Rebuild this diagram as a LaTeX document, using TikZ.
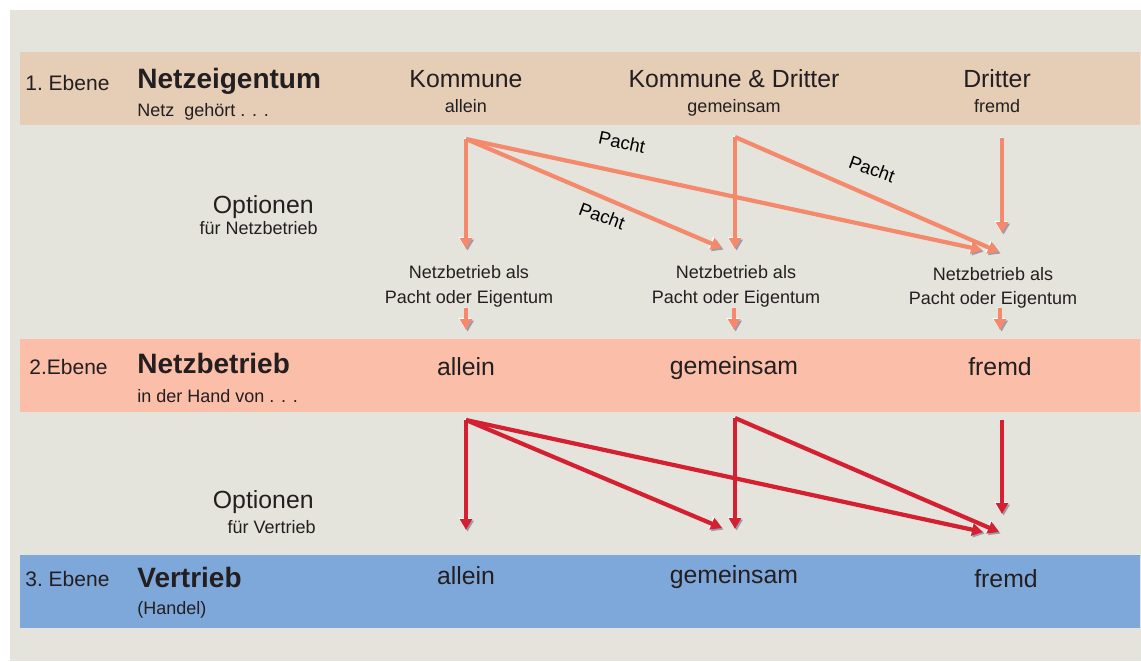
\documentclass[tikz,border=0pt]{standalone}
\usepackage{fontspec}
\setmainfont{Liberation Sans}
\usetikzlibrary{arrows.meta}

\definecolor{grund}{HTML}{E5E4DC}
\definecolor{eigen}{HTML}{E6CDB6}
\definecolor{betrieb}{HTML}{FBBEA8}
\definecolor{vertrieb}{HTML}{7FA8DA}
\definecolor{lachs}{HTML}{F4896C}
\definecolor{rot}{HTML}{D42030}
\definecolor{schrift}{HTML}{231F20}
\definecolor{schatten}{HTML}{9C9CAA}

\tikzset{
  band/.style={minimum width=560pt, minimum height=36.5pt, inner sep=0pt},
  txt/.style={text=schrift, inner sep=0pt},
  klein/.style={txt, font=\fontsize{9}{11}\selectfont},
  mittel/.style={txt, font=\fontsize{12.4}{15}\selectfont},
  titel/.style={txt, font=\fontsize{14}{17}\selectfont\bfseries},
  ebene/.style={txt, font=\fontsize{10.5}{12}\selectfont},
  pacht/.style={text=black, inner sep=0pt, font=\fontsize{9.2}{11}\selectfont},
  pfeil/.style={line width=2.1pt, -{Triangle[width=6pt,length=5.5pt]},
    preaction={draw=white, transform canvas={shift={(-0.6pt,0.6pt)}}},
    preaction={draw=schatten, transform canvas={shift={(0.8pt,-0.8pt)}}}},
}

\begin{document}
\begin{tikzpicture}[x=0.5pt,y=-0.5pt]
    \useasboundingbox (0,0) rectangle (1141,661);
    \fill[white] (0,0) rectangle (1141,661);
    \fill[grund] (10,10) rectangle (1141,661);

    % Ebenen
    \node[band, fill=eigen] (band1) at (580,88) {};
    \node[band, fill=betrieb] (band2) at (580,375) {};
    \node[band, fill=vertrieb] (band3) at (580,591) {};

    % 1. Ebene
    \node[ebene, anchor=base west] (e1) at (25,90) {1.~Ebene};
    \node[titel, anchor=base west] (eigentum) at (137,88) {Netzeigentum};
    \node[klein, anchor=base west] (gehoert) at (137,116) {Netz\ \ gehört . . .};
    \node[mittel, anchor=base] (kommune) at (466,87) {Kommune};
    \node[klein, anchor=base] (allein1) at (466,112) {allein};
    \node[mittel, anchor=base] (beide) at (734,87) {Kommune \& Dritter};
    \node[klein, anchor=base] (gemeinsam1) at (734,112) {gemeinsam};
    \node[mittel, anchor=base] (dritter) at (997,87) {Dritter};
    \node[klein, anchor=base] (fremd1) at (997,112) {fremd};

    % Optionen Netzbetrieb
    \node[mittel, anchor=base east] (opt1) at (314,213) {Optionen};
    \node[klein, anchor=base east] (fuer1) at (318,234) {für Netzbetrieb};
    \node[klein, anchor=base] (nb1) at (469,278) {Netzbetrieb als};
    \node[klein, anchor=base] (po1) at (469,303) {Pacht oder Eigentum};
    \node[klein, anchor=base] (nb2) at (736,278) {Netzbetrieb als};
    \node[klein, anchor=base] (po2) at (736,303) {Pacht oder Eigentum};
    \node[klein, anchor=base] (nb3) at (993,280) {Netzbetrieb als};
    \node[klein, anchor=base] (po3) at (993,304) {Pacht oder Eigentum};

    % 2. Ebene
    \node[ebene, anchor=base west] (e2) at (29,374) {2.Ebene};
    \node[titel, anchor=base west] (netzbetrieb) at (137,373) {Netzbetrieb};
    \node[klein, anchor=base west] (hand) at (137,402) {in der Hand von . . .};
    \node[mittel, anchor=base] (allein2) at (466,375) {allein};
    \node[mittel, anchor=base] (gemeinsam2) at (734,374) {gemeinsam};
    \node[mittel, anchor=base] (fremd2) at (1000,375) {fremd};

    % Optionen Vertrieb
    \node[mittel, anchor=base east] (opt2) at (314,508) {Optionen};
    \node[klein, anchor=base east] (fuer2) at (316,533) {für Vertrieb};

    % 3. Ebene
    \node[ebene, anchor=base west] (e3) at (25,586) {3.~Ebene};
    \node[titel, anchor=base west] (vertrieb) at (137,587) {Vertrieb};
    \node[klein, anchor=base west] (handel) at (137,614) {(Handel)};
    \node[mittel, anchor=base] (allein3) at (466,584) {allein};
    \node[mittel, anchor=base] (gemeinsam3) at (734,583) {gemeinsam};
    \node[mittel, anchor=base] (fremd3) at (1006,587) {fremd};

    % Pfeile Netzbetrieb
    \coordinate (k1) at (466,139);
    \coordinate (k2) at (735,137);
    \coordinate (k3) at (1002,138);
    \coordinate (a1) at (466,249);
    \coordinate (a2) at (722,248);
    \coordinate (a3) at (982,250);
    \coordinate (b1) at (735,249);
    \coordinate (b2) at (999,252);
    \coordinate (c1) at (1002,233);
    \draw[pfeil, lachs] (k1) -- (a1);
    \draw[pfeil, lachs] (k1) -- (a2);
    \draw[pfeil, lachs] (k1) -- (a3);
    \draw[pfeil, lachs] (k2) -- (b1);
    \draw[pfeil, lachs] (k2) -- (b2);
    \draw[pfeil, lachs] (k3) -- (c1);
    \node[pacht, rotate=-12] (pacht1) at (622,142) {Pacht};
    \node[pacht, rotate=-20] (pacht2) at (602,216) {Pacht};
    \node[pacht, rotate=-20] (pacht3) at (872,169) {Pacht};

    \coordinate (d1) at (466,308);
    \coordinate (d2) at (734,308);
    \coordinate (d3) at (1000,308);
    \coordinate (f1) at (466,330);
    \coordinate (f2) at (734,330);
    \coordinate (f3) at (1000,330);
    \draw[pfeil, lachs] (d1) -- (f1);
    \draw[pfeil, lachs] (d2) -- (f2);
    \draw[pfeil, lachs] (d3) -- (f3);

    % Pfeile Vertrieb
    \coordinate (m1) at (466,420);
    \coordinate (m2) at (735,418);
    \coordinate (m3) at (1002,420);
    \coordinate (v1) at (466,530);
    \coordinate (v2) at (722,528);
    \coordinate (v3) at (983,532);
    \coordinate (w1) at (735,529);
    \coordinate (w2) at (999,532);
    \coordinate (x1) at (1002,514);
    \draw[pfeil, rot] (m1) -- (v1);
    \draw[pfeil, rot] (m1) -- (v2);
    \draw[pfeil, rot] (m1) -- (v3);
    \draw[pfeil, rot] (m2) -- (w1);
    \draw[pfeil, rot] (m2) -- (w2);
    \draw[pfeil, rot] (m3) -- (x1);
\end{tikzpicture}
\end{document}
